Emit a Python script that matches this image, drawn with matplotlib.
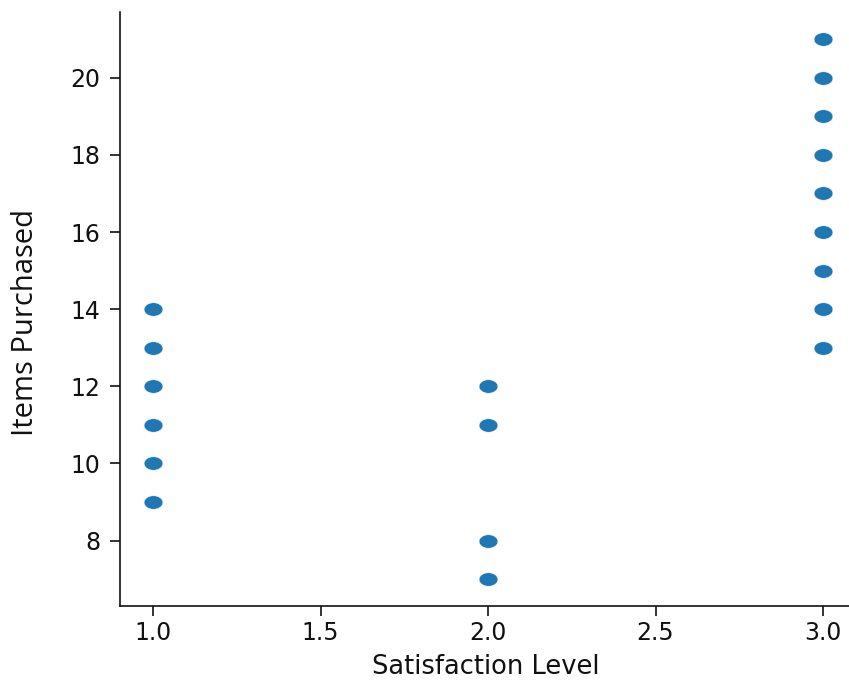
import matplotlib
matplotlib.use('Agg')
import matplotlib.pyplot as plt
import numpy as np
from matplotlib.path import Path

# satisfaction level vs items purchased
satisfaction = [1, 1, 1, 1, 1, 1,
                2, 2, 2, 2,
                3, 3, 3, 3, 3, 3, 3, 3, 3]
items = [9, 10, 11, 12, 13, 14,
         7, 8, 11, 12,
         13, 14, 15, 16, 17, 18, 19, 20, 21]


def ellipse_marker(sx=1.4, sy=1.0, n=60):
    # the reference image is stretched sideways, so the dots are ovals
    t = np.linspace(0, 2 * np.pi, n)
    verts = np.column_stack([sx * np.cos(t), sy * np.sin(t)])
    return Path(verts, closed=True)


fig = plt.figure(figsize=(8.49, 6.8), dpi=100)
ax = fig.add_axes([0.1408, 0.1085, 0.8681, 0.8737])

ax.scatter(satisfaction, items, s=185, marker=ellipse_marker(),
           color='#1f77b4', edgecolor='white', linewidth=0.4, zorder=3)

ax.set_xticks([1.0, 1.5, 2.0, 2.5, 3.0])
ax.set_yticks([8, 10, 12, 14, 16, 18, 20])

ax.spines['top'].set_visible(False)
ax.spines['right'].set_visible(False)
for side in ['left', 'bottom']:
    ax.spines[side].set_linewidth(1.2)
    ax.spines[side].set_color('#111111')

ax.tick_params(axis='both', length=7, width=1.2, colors='#111111',
               labelsize=17, labelcolor='#111111')
ax.tick_params(axis='y', pad=7)
ax.tick_params(axis='x', pad=4)

ax.set_xlabel('Satisfaction Level', fontsize=18.5, color='#111111')
ax.set_ylabel('Items Purchased', fontsize=21, family='Open Sans', color='#111111')
ax.xaxis.set_label_coords(0.497, -0.08)
ax.yaxis.set_label_coords(-0.108, (606 - 322) / 594)

plt.savefig('out.png', dpi=100)
